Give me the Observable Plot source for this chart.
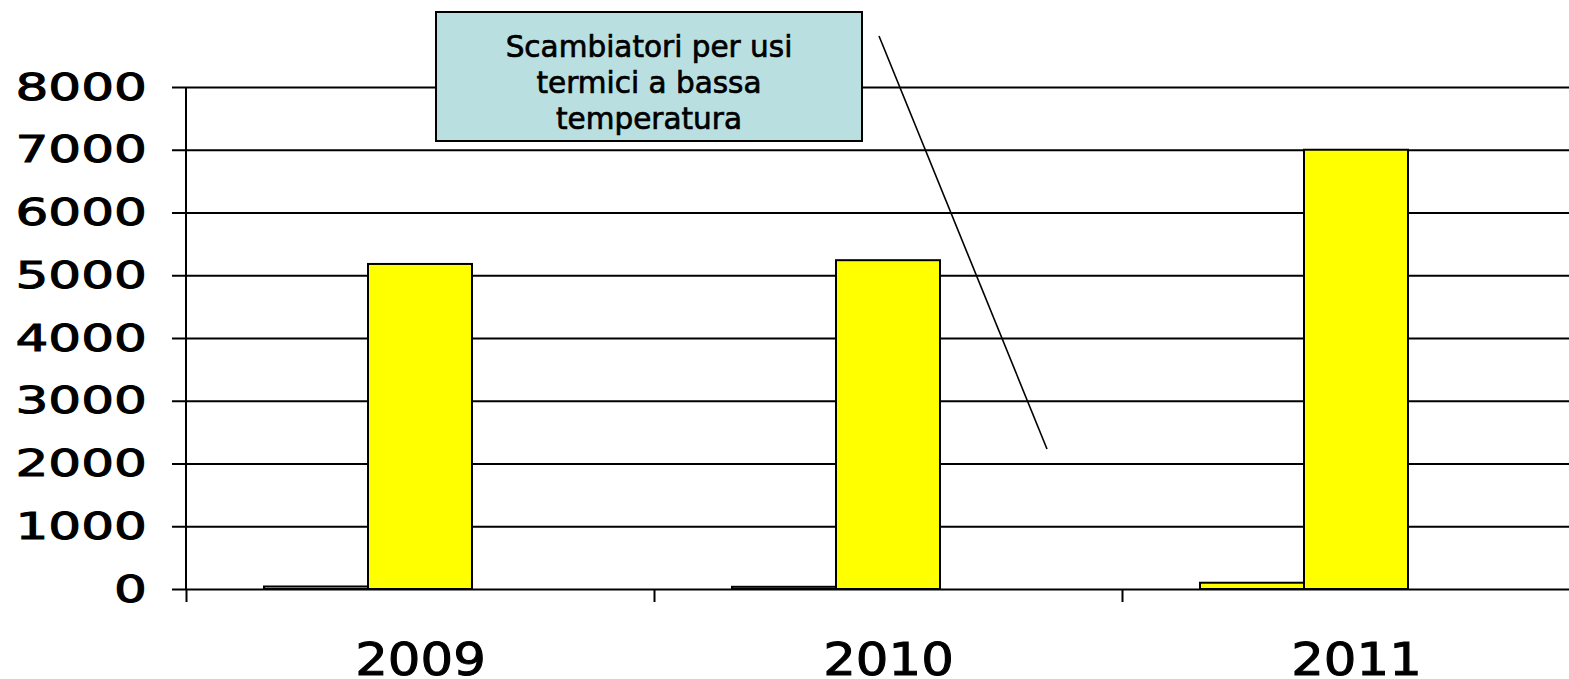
<!DOCTYPE html>
<html><head><meta charset="utf-8">
<script src="https://cdn.jsdelivr.net/npm/d3@7"></script>
<script src="https://cdn.jsdelivr.net/npm/@observablehq/plot@0.6"></script>
<style>
html,body{margin:0;padding:0;background:#fff;overflow:hidden;}
#wrap{position:relative;width:1569px;height:679px;overflow:hidden;background:#fff;}
#wrap svg.overlay{position:absolute;left:0;top:0;}
</style></head><body><div id="wrap"></div>
<script>
const years = ["2009", "2010", "2011"];
const seriesNames = ["Serie 1", "Serie 2", "Serie 3"];
const serie1 = [40, 35, 100];
const serie2 = [5180, 5240, 7000];
const serie3 = [null, null, null];
const yTicks = [0, 1000, 2000, 3000, 4000, 5000, 6000, 7000, 8000];
const annotationLines = ["Scambiatori per usi", "termici a bassa", "temperatura"];

const allSeries = [serie1, serie2, serie3];
const data = years.flatMap((year, i) =>
  seriesNames.map((s, k) => ({year, series: s, value: allSeries[k][i]}))
).filter(d => d.value != null);

const W = 1590, H = 679, mL = 186, mR = 0, mT = 87, mB = 90;
const step = (W - mL - mR) / years.length;

const chart = Plot.plot({
  width: W, height: H,
  marginLeft: mL, marginRight: mR, marginTop: mT, marginBottom: mB,
  style: {fontFamily: "'DejaVu Sans', sans-serif", color: "#000", background: "#fff", maxWidth: "none", overflow: "visible"},
  fx: {domain: years, padding: 0, label: null},
  x: {domain: seriesNames, paddingInner: 0, paddingOuter: 0.75, axis: null},
  y: {domain: [0, 8000], axis: null},
  marks: [
    Plot.ruleY(yTicks, {stroke: "#000", strokeWidth: 2}),
    Plot.barY(data, {fx: "year", x: "series", y: "value", fill: "#ffff00", stroke: "#000", strokeWidth: 2}),
    Plot.axisY(yTicks, {tickSize: 14, tickPadding: 25.6, fontSize: 38, label: null, stroke: "#000", strokeWidth: 2, tickFormat: d => String(d)}),
    Plot.axisFx({anchor: "bottom", tickSize: 13, tickFormat: () => "", label: null, dx: -step / 2, stroke: "#000", strokeWidth: 2}),
    Plot.axisFx({anchor: "bottom", tickSize: 0, tickPadding: 54, fontSize: 45, label: null})
  ]
});

function stretch(sel, s, sw) {
  chart.querySelectorAll(sel).forEach(t => {
    if (!t.textContent) return;
    const tr = t.getAttribute("transform");
    if (tr) t.setAttribute("transform", tr + ` scale(${s},1)`);
    else {
      const x = +t.getAttribute("x") || 0, y = +t.getAttribute("y") || 0;
      t.setAttribute("transform", `translate(${x},${y}) scale(${s},1) translate(${-x},${-y})`);
    }
    t.setAttribute("stroke", "#000");
    t.setAttribute("stroke-width", sw);
  });
}
stretch('g[aria-label="y-axis tick label"] text', 1.36, 1.0);
stretch('g[aria-label="fx-axis tick label"] text', 1.14, 1.0);

// y-axis line, drawn from the chart's own y scale
const ys = chart.scale("y");
d3.select(chart).append("line")
  .attr("x1", mL).attr("x2", mL)
  .attr("y1", ys.apply(0)).attr("y2", ys.apply(8000))
  .attr("stroke", "#000").attr("stroke-width", 2);

const wrap = document.getElementById("wrap");
wrap.appendChild(chart);

// annotation overlay
const ns = "http://www.w3.org/2000/svg";
const ov = document.createElementNS(ns, "svg");
ov.setAttribute("class", "overlay");
ov.setAttribute("width", 1569); ov.setAttribute("height", 679);
ov.innerHTML = `
  <line x1="879" y1="36" x2="1047" y2="449" stroke="#000" stroke-width="1.6"/>
  <rect x="436" y="12" width="426" height="129" fill="#badfe0" stroke="#000" stroke-width="2"/>
  ${annotationLines.map((l, i) => `<text x="649" y="${57 + 36 * i}" text-anchor="middle" font-family="'DejaVu Sans', sans-serif" font-size="29.5" fill="#000" stroke="#000" stroke-width="0.7">${l}</text>`).join("")}
`;
wrap.appendChild(ov);
</script></body></html>
